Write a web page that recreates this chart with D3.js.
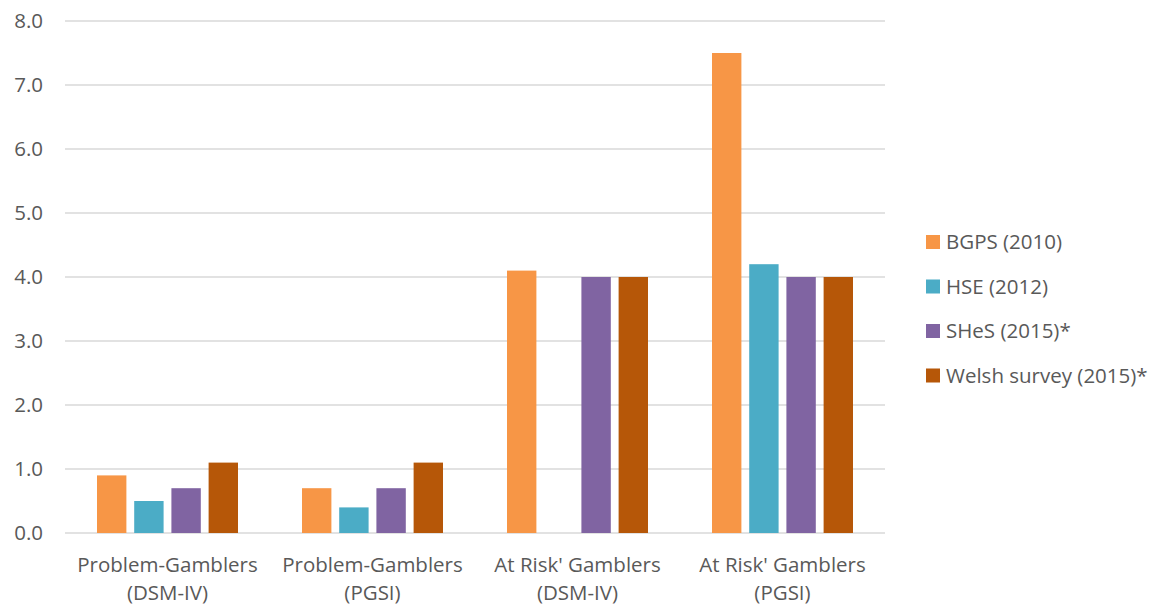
<!DOCTYPE html>
<html>
<head>
<meta charset="utf-8">
<script src="https://cdn.jsdelivr.net/npm/d3@7"></script>
<style>
  html, body { margin: 0; padding: 0; background: #fff; }
  svg { display: block; }
</style>
</head>
<body>
<svg id="chart" width="1156" height="605"></svg>
<script>
const categories = [
  ["Problem-Gamblers", "(DSM-IV)"],
  ["Problem-Gamblers", "(PGSI)"],
  ["At Risk' Gamblers", "(DSM-IV)"],
  ["At Risk' Gamblers", "(PGSI)"]
];
const seriesNames = ["BGPS (2010)", "HSE (2012)", "SHeS (2015)*", "Welsh survey (2015)*"];
const bgps = [0.9, 0.7, 4.1, 7.5];
const hse = [0.5, 0.4, null, 4.2];
const shes = [0.7, 0.7, 4.0, 4.0];
const welsh = [1.1, 1.1, 4.0, 4.0];
const yTicks = [0, 1, 2, 3, 4, 5, 6, 7, 8];
const colors = ["#F79646", "#4BACC6", "#8064A2", "#B65708"];

const seriesValues = [bgps, hse, shes, welsh];
const font = "'Open Sans', sans-serif";
const fs = 20.5;
const svg = d3.select("#chart");

const plot = { left: 65, right: 885, top: 21, bottom: 533 };
const catKeys = categories.map((c, i) => i);

const x0 = d3.scaleBand().domain(catKeys).range([plot.left, plot.right]).padding(0);
const inner = 32;
const x1 = d3.scaleBand().domain(d3.range(seriesNames.length))
  .range([inner, x0.bandwidth() - inner]).paddingInner(0.21).paddingOuter(0);
const y = d3.scaleLinear().domain([0, 8]).range([plot.bottom, plot.top]);

// gridlines
svg.append("g").selectAll("line").data(yTicks).join("line")
  .attr("x1", plot.left).attr("x2", plot.right)
  .attr("y1", d => y(d)).attr("y2", d => y(d))
  .attr("stroke", "#D9D9D9").attr("stroke-width", 1.4);

// y axis labels
const yAxis = d3.axisLeft(y).tickValues(yTicks).tickFormat(d3.format(".1f")).tickSize(0).tickPadding(0);
const yg = svg.append("g").attr("transform", `translate(43,0)`).call(yAxis);
yg.select(".domain").remove();
yg.selectAll("text").attr("font-family", font).attr("font-size", fs).attr("fill", "#595959");

// bars
const groups = svg.append("g").selectAll("g").data(catKeys).join("g")
  .attr("transform", d => `translate(${x0(d)},0)`);
groups.selectAll("rect")
  .data(ci => seriesValues.map((vals, si) => ({ si, v: vals[ci] })).filter(d => d.v != null))
  .join("rect")
  .attr("x", d => x1(d.si))
  .attr("width", x1.bandwidth())
  .attr("y", d => y(d.v))
  .attr("height", d => y(0) - y(d.v))
  .attr("fill", d => colors[d.si]);

// x labels
const xl = svg.append("g").selectAll("text").data(catKeys).join("text")
  .attr("x", d => x0(d) + x0.bandwidth() / 2)
  .attr("text-anchor", "middle")
  .attr("font-family", font).attr("font-size", fs).attr("fill", "#595959");
xl.append("tspan").attr("x", d => x0(d) + x0.bandwidth() / 2).attr("y", 572).text(d => categories[d][0]);
xl.append("tspan").attr("x", d => x0(d) + x0.bandwidth() / 2).attr("y", 600).text(d => categories[d][1]);

// legend
const leg = svg.append("g").selectAll("g").data(seriesNames).join("g")
  .attr("transform", (d, i) => `translate(926,${242 + i * 44.5})`);
leg.append("rect").attr("x", 0).attr("y", -7).attr("width", 14).attr("height", 14)
  .attr("fill", (d, i) => colors[i]);
leg.append("text").attr("x", 20).attr("y", 0).attr("dy", "0.35em")
  .attr("font-family", font).attr("font-size", fs).attr("fill", "#595959").text(d => d);
</script>
</body>
</html>
